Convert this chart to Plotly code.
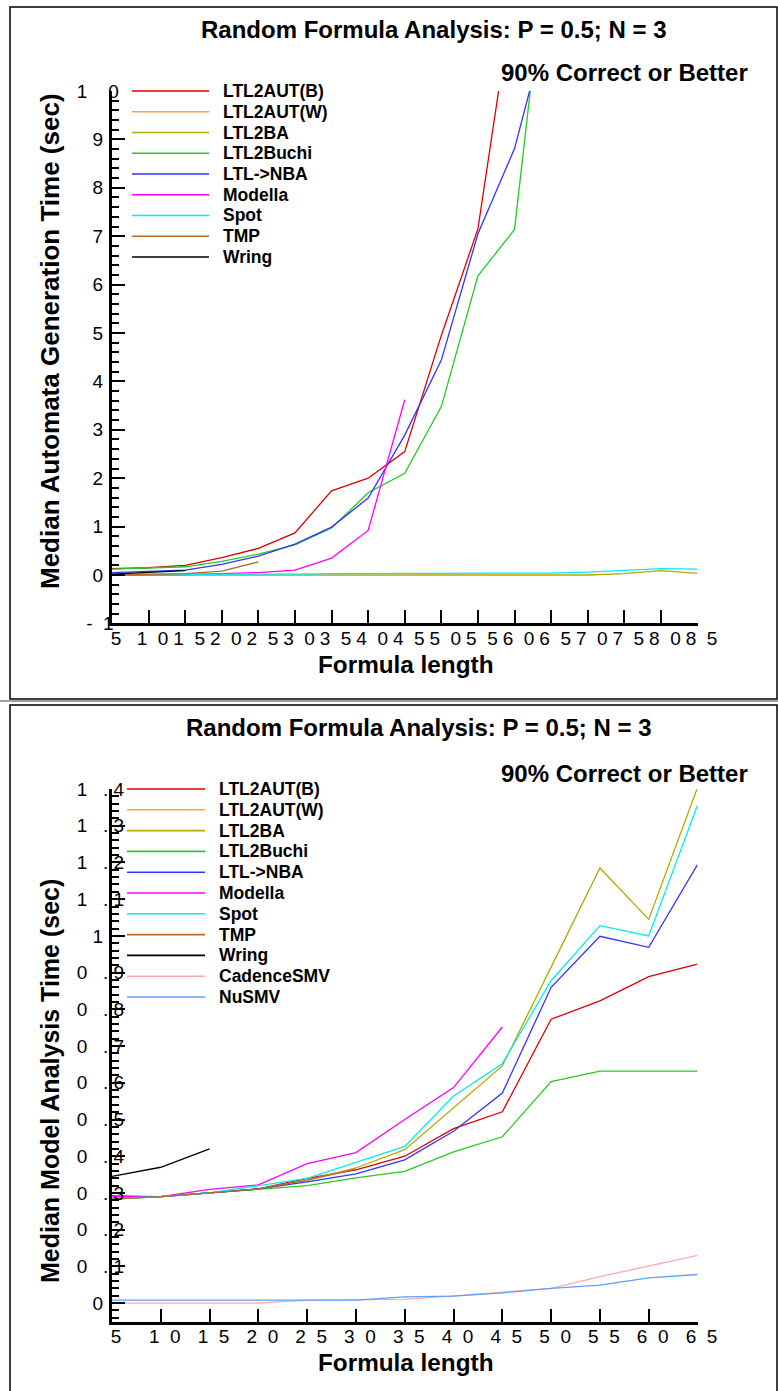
import plotly.graph_objects as go

# ---------------- data ----------------
series_names_top = ["LTL2AUT(B)", "LTL2AUT(W)", "LTL2BA", "LTL2Buchi", "LTL->NBA",
                    "Modella", "Spot", "TMP", "Wring"]
series_names_bot = series_names_top + ["CadenceSMV", "NuSMV"]

x_top = [5, 10, 15, 20, 25, 30, 35, 40, 45, 50, 55, 60, 65, 70, 75, 80, 85]
top_ltl2aut_b = [0.13, 0.15, 0.20, 0.36, 0.55, 0.87, 1.74, 2.00, 2.55, 4.95, 7.15, 12.2]
top_ltl2aut_w = []
top_ltl2ba = [0, 0, 0, 0, 0, 0, 0, 0, 0, 0, 0, 0, 0, 0, 0.03, 0.09, 0.035]
top_ltl2buchi = [0.12, 0.14, 0.17, 0.28, 0.43, 0.62, 0.97, 1.70, 2.10, 3.48, 6.18, 7.14, 13.8]
top_ltl_nba = [0.05, 0.07, 0.10, 0.22, 0.39, 0.64, 0.99, 1.59, 2.89, 4.44, 7.05, 8.81, 11.7]
top_modella = [0.0, 0.0, 0.01, 0.03, 0.05, 0.10, 0.35, 0.92, 3.62]
top_spot = [0.01, 0.01, 0.02, 0.02, 0.02, 0.02, 0.03, 0.03, 0.03, 0.03, 0.03, 0.04, 0.04,
            0.06, 0.10, 0.13, 0.12]
top_tmp = [0.0, 0.01, 0.03, 0.08, 0.27]
top_wring = [0.02, 0.05, 0.09]

x_bot = [5, 10, 15, 20, 25, 30, 35, 40, 45, 50, 55, 60, 65]
bot_ltl2aut_b = [0.292, 0.29, 0.30, 0.311, 0.34, 0.363, 0.40, 0.475, 0.521, 0.773, 0.823, 0.889, 0.923]
bot_ltl2aut_w = []
bot_ltl2ba = [0.283, 0.29, 0.30, 0.311, 0.335, 0.368, 0.418, 0.532, 0.646, 0.915, 1.185, 1.045, 1.404]
bot_ltl2buchi = [0.283, 0.29, 0.30, 0.311, 0.32, 0.341, 0.359, 0.412, 0.453, 0.603, 0.632, 0.632, 0.632]
bot_ltl_nba = [0.285, 0.29, 0.30, 0.311, 0.33, 0.352, 0.39, 0.468, 0.572, 0.86, 0.999, 0.969, 1.194]
bot_modella = [0.29, 0.29, 0.31, 0.322, 0.38, 0.41, 0.50, 0.587, 0.752]
bot_spot = [0.285, 0.29, 0.30, 0.32, 0.34, 0.383, 0.427, 0.564, 0.652, 0.878, 1.028, 1.0, 1.356]
bot_tmp = [0.283, 0.29, 0.30, 0.311, 0.335, 0.365]
bot_wring = [0.345, 0.37, 0.42]
bot_cadencesmv = [0, 0, 0, 0, 0.008, 0.008, 0.01, 0.02, 0.03, 0.04, 0.072, 0.102, 0.13]
bot_nusmv = [0.008, 0.008, 0.008, 0.008, 0.008, 0.008, 0.017, 0.019, 0.028, 0.04, 0.049, 0.069, 0.078]

top_x_tickvals = [5, 10, 15, 20, 25, 30, 35, 40, 45, 50, 55, 60, 65, 70, 75, 80, 85]
top_x_ticklabels = ["5", "1 0", "1 5", "2 0", "2 5", "3 0", "3 5", "4 0", "4 5", "5 0",
                    "5 5", "6 0", "6 5", "7 0", "7 5", "8 0", "8 5"]
top_y_tickvals = [-1, 0, 1, 2, 3, 4, 5, 6, 7, 8, 9, 10]
top_y_ticklabels = ["- 1", "0", "1", "2", "3", "4", "5", "6", "7", "8", "9", "1 0"]
bot_x_tickvals = [5, 10, 15, 20, 25, 30, 35, 40, 45, 50, 55, 60, 65]
bot_x_ticklabels = ["5", "1 0", "1 5", "2 0", "2 5", "3 0", "3 5", "4 0", "4 5", "5 0",
                    "5 5", "6 0", "6 5"]
bot_y_tickvals = [0, 0.1, 0.2, 0.3, 0.4, 0.5, 0.6, 0.7, 0.8, 0.9, 1.0, 1.1, 1.2, 1.3, 1.4]
bot_y_ticklabels = ["0", "0 . 1", "0 . 2", "0 . 3", "0 . 4", "0 . 5", "0 . 6", "0 . 7",
                    "0 . 8", "0 . 9", "1", "1 . 1", "1 . 2", "1 . 3", "1 . 4"]

title_text = "Random Formula Analysis: P = 0.5; N = 3"
subtitle_text = "90% Correct or Better"
x_title = "Formula length"
y_title_top = "Median Automata Generation Time (sec)"
y_title_bot = "Median Model Analysis Time (sec)"

# ---------------- styling ----------------
colors = {
    "LTL2AUT(B)": "#e00000",
    "LTL2AUT(W)": "#ffa040",
    "LTL2BA": "#b8a800",
    "LTL2Buchi": "#22cc22",
    "LTL->NBA": "#3333ff",
    "Modella": "#ff00ff",
    "Spot": "#00eeee",
    "TMP": "#b86a2a",
    "Wring": "#000000",
    "CadenceSMV": "#ffaaaa",
    "NuSMV": "#5aa0ff",
}

W, H = 778, 1391
FONT = "Liberation Sans, Arial, sans-serif"
TICK_SIZE = 19
NB = "\u00a0"


def px(x):
    return x / W


def py(y):
    return 1 - y / H


def char_w(c):
    if c.isdigit():
        return 0.556
    if c == ".":
        return 0.278
    if c == "-":
        return 0.333
    if c == NB:
        return 0.278
    return 0.5


def spaced(label, gaps):
    parts = label.split(" ")
    out = parts[0]
    for i, p in enumerate(parts[1:]):
        out += NB * gaps[min(i, len(gaps) - 1)] + p
    return out


def ylab(label, gaps, right_edge, center):
    s = spaced(label, gaps)
    w = sum(char_w(c) for c in s) * TICK_SIZE
    n = round((right_edge - center - w / 2) / (0.278 * TICK_SIZE))
    return s + NB * max(n, 0)


Y_STANDOFF = -19
R_EDGE = 122
C_LAB = 98

fig = go.Figure()

top_data = [top_ltl2aut_b, top_ltl2aut_w, top_ltl2ba, top_ltl2buchi, top_ltl_nba,
            top_modella, top_spot, top_tmp, top_wring]
for name, ys in zip(series_names_top, top_data):
    fig.add_trace(go.Scatter(x=x_top[:len(ys)], y=ys, mode="lines", name=name,
                             line=dict(color=colors[name], width=1.3),
                             xaxis="x", yaxis="y", showlegend=False))

bot_data = [bot_ltl2aut_b, bot_ltl2aut_w, bot_ltl2ba, bot_ltl2buchi, bot_ltl_nba,
            bot_modella, bot_spot, bot_tmp, bot_wring, bot_cadencesmv, bot_nusmv]
for name, ys in zip(series_names_bot, bot_data):
    fig.add_trace(go.Scatter(x=x_bot[:len(ys)], y=ys, mode="lines", name=name,
                             line=dict(color=colors[name], width=1.3),
                             xaxis="x2", yaxis="y2", showlegend=False))

axis_common = dict(showline=True, linewidth=3, linecolor="black", ticks="inside",
                   ticklen=13, tickwidth=2, tickcolor="black", showgrid=False,
                   zeroline=False, tickmode="array", automargin=False, tickangle=0,
                   tickfont=dict(size=TICK_SIZE, family=FONT, color="black"))

xdom = [px(112), px(697.5)]
fig.update_layout(
    width=W, height=H, margin=dict(l=0, r=0, t=0, b=0, autoexpand=False),
    paper_bgcolor="white", plot_bgcolor="white", showlegend=False,
    font=dict(family=FONT, color="black"),
    xaxis=dict(axis_common, domain=xdom, anchor="y", range=[5, 85],
               tickvals=top_x_tickvals, ticklabelshift=4, ticklabelstandoff=-4,
               ticktext=[spaced(t, [2]) for t in top_x_ticklabels]),
    yaxis=dict(axis_common, domain=[py(623.4), py(91)], anchor="x", range=[-1, 10],
               tickvals=top_y_tickvals, ticklabelstandoff=Y_STANDOFF,
               ticktext=[ylab(t, [4] if t == "1 0" else [2], R_EDGE, C_LAB) for t in top_y_ticklabels],
               minor=dict(ticks="inside", ticklen=7, tickwidth=1.5, tickcolor="black",
                          tickmode="linear", tick0=0, dtick=0.2, showgrid=False)),
    xaxis2=dict(axis_common, domain=xdom, anchor="y2", range=[5, 65],
                tickvals=bot_x_tickvals, ticklabelshift=4, ticklabelstandoff=-4,
                ticktext=[spaced(t, [2]) for t in bot_x_ticklabels]),
    yaxis2=dict(axis_common, domain=[py(1321.5), py(789)], anchor="x2", range=[-0.05, 1.4],
                tickvals=bot_y_tickvals, ticklabelstandoff=Y_STANDOFF,
                ticktext=[ylab(t, [3, 1], R_EDGE, C_LAB) for t in bot_y_ticklabels],
                minor=dict(ticks="inside", ticklen=7, tickwidth=1.5, tickcolor="black",
                           tickmode="linear", tick0=0, dtick=0.02, showgrid=False)),
)

shapes = [
    dict(type="rect", xref="paper", yref="paper", x0=px(10), x1=px(777), y0=py(699), y1=py(7),
         line=dict(color="black", width=1.5)),
    dict(type="line", xref="paper", yref="paper", x0=0, x1=1, y0=py(701), y1=py(701),
         line=dict(color="#a0a0a0", width=2)),
    dict(type="rect", xref="paper", yref="paper", x0=px(10), x1=px(777), y0=py(1400), y1=py(705),
         line=dict(color="black", width=1.5)),
]
annotations = []

big = dict(family=FONT, size=24, color="black")
axt = dict(family=FONT, size=24.3, color="black")
for (tx, ty), (sx, sy), (xx, xy), (yx, yy, yt, ys) in [
        ((433, 29), (499, 72), (405, 664), (50, 341, y_title_top, 26)),
        ((418, 727), (499, 773), (405, 1362), (50, 1081, y_title_bot, 25))]:
    annotations.append(dict(text="<b>" + title_text + "</b>", x=px(tx), y=py(ty),
                            xref="paper", yref="paper", xanchor="center", yanchor="middle",
                            showarrow=False, font=big))
    annotations.append(dict(text="<b>" + subtitle_text + "</b>", x=px(sx), y=py(sy),
                            xref="paper", yref="paper", xanchor="left", yanchor="middle",
                            showarrow=False, font=big))
    annotations.append(dict(text="<b>" + x_title + "</b>", x=px(xx), y=py(xy),
                            xref="paper", yref="paper", xanchor="center", yanchor="middle",
                            showarrow=False, font=axt, borderpad=0))
    annotations.append(dict(text="<b>" + yt + "</b>", x=px(yx), y=py(yy), textangle=-90,
                            xref="paper", yref="paper", xanchor="center", yanchor="middle",
                            showarrow=False, font=dict(family=FONT, size=ys, color="black")))

# manual legends (long line samples like the reference)
leg_font = dict(family=FONT, size=17.5, color="black")
for names, y0, step, lx0, lx1, tx in [
        (series_names_top, 91, 20.75, 132, 209, 221),
        (series_names_bot, 789, 20.8, 127, 205, 217)]:
    for i, name in enumerate(names):
        yy = y0 + i * step
        shapes.append(dict(type="line", xref="paper", yref="paper",
                           x0=px(lx0), x1=px(lx1), y0=py(yy), y1=py(yy),
                           line=dict(color=colors[name], width=1.6)))
        annotations.append(dict(text="<b>" + name + "</b>", x=px(tx), y=py(yy),
                                xref="paper", yref="paper", xanchor="left", yanchor="middle",
                                showarrow=False, font=leg_font))

fig.update_layout(shapes=shapes, annotations=annotations)
fig.write_html(
    "out.html",
    config={"displayModeBar": False},
    post_script=("document.body.style.margin='0px';"
                 "document.body.style.overflow='hidden';"
                 "document.documentElement.style.overflow='hidden';"),
)
